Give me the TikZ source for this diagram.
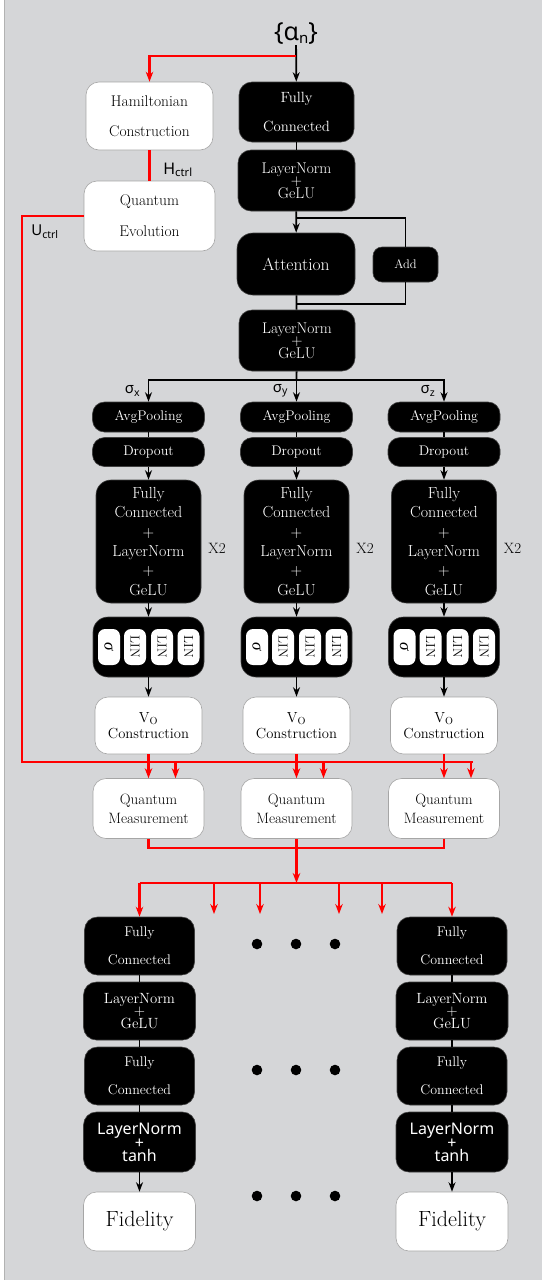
\documentclass[tikz,border=0pt]{standalone}
\usepackage{fontspec}
\newfontfamily\sansf{Noto Sans}
\newfontfamily\serifg{Liberation Serif}
\usetikzlibrary{arrows.meta}
\definecolor{bg}{RGB}{213,214,216}
\definecolor{rline}{RGB}{255,0,0}
\newcommand{\fsz}[2]{\fontsize{#1}{#2}\selectfont}
\begin{document}
\begin{tikzpicture}[x=1pt,y=-1pt,
 blk/.style={fill=black, draw=black!75, line width=0.6pt, rounded corners=13pt, text=white, inner sep=0pt, align=center},
 wht/.style={fill=white, draw=black!35, line width=0.6pt, rounded corners=13pt, inner sep=0pt, align=center},
 pill/.style={fill=white, draw=none, rounded corners=7pt, minimum width=36pt, minimum height=22pt, inner sep=0pt, font=\fsz{13}{13}, rotate=-90},
 conn/.style={line width=1.8pt, draw=black},
 arr/.style={conn, -{Stealth[length=9.5pt,width=7pt]}},
 rconn/.style={line width=2.4pt, draw=rline},
 rarr/.style={rconn, -{Stealth[length=10pt,width=7.5pt]}},
 lbl/.style={inner sep=0pt, font=\sansf\fsz{15}{15}},
 dot/.style={fill=black}
]
\useasboundingbox (0,0) rectangle (542,1280);
\fill[white] (0,0) rectangle (542,1280);
\fill[bg] (4,0) rectangle (542,1280);
\draw[black!30, line width=0.8pt] (4.4,0) -- (4.4,1280);

% top
\node[inner sep=0pt, font=\sansf\fsz{25}{25}] (alpha) at (296,34) {\{α{\fsz{15}{15}\raisebox{-3pt}{n}}\}};
\node[wht, minimum width=127pt, minimum height=68pt, font=\fsz{15.5}{30}] (ham) at (149.5,116) {Hamiltonian\\Construction};
\node[wht, minimum width=131pt, minimum height=70pt, font=\fsz{15.5}{31}] (qev) at (149.5,216) {Quantum\\Evolution};
\node[blk, minimum width=115pt, minimum height=60pt, font=\fsz{14.8}{29}] (fc1) at (296.5,112) {Fully\\Connected};
\node[blk, minimum width=117pt, minimum height=61pt, font=\fsz{15.5}{12.5}] (ln1) at (296.5,180.5) {LayerNorm\\+\\GeLU};
\node[blk, minimum width=118pt, minimum height=62pt, rounded corners=16pt, font=\fsz{17.5}{20}] (att) at (296,264) {Attention};
\node[blk, minimum width=65pt, minimum height=35pt, rounded corners=9pt, font=\fsz{12.5}{14}] (add) at (405.5,264.5) {Add};
\node[blk, minimum width=116pt, minimum height=61pt, font=\fsz{15.5}{12.5}] (ln2) at (297,340.5) {LayerNorm\\+\\GeLU};

\coordinate (rs) at (296,56);
\draw[arr] (alpha) -- (fc1);
\draw[rarr] (rs) -| (ham.north);
\draw[rconn] (ham) -- (qev);
\node[lbl, font=\sansf\fsz{16}{16}] at (178,170) {H\textsubscript{ctrl}};
\coordinate (uc) at (22,762);
\coordinate (ue) at (473,762);
\draw[rconn] (qev.west) -| (uc) -- (ue);
\node[lbl] at (45,232) {U\textsubscript{ctrl}};

\draw[conn] (fc1) -- (ln1);
\draw[arr] (ln1) -- (att);
\coordinate (s1) at (296.5,218);
\coordinate (s2) at (296.5,304);
\draw[conn] (s1) -| (add.north);
\draw[conn] (add.south) |- (s2);
\draw[conn] (att) -- (ln2);

% three branches
\foreach \i/\cx/\s in {1/148.5/x,2/296.5/y,3/444/z}{
  \node[blk, minimum width=112pt, minimum height=30pt, rounded corners=12pt, font=\fsz{14}{16}] (avg\i) at (\cx,417) {AvgPooling};
  \node[blk, minimum width=112pt, minimum height=29pt, rounded corners=12pt, font=\fsz{14}{16}] (drop\i) at (\cx,452) {Dropout};
  \node[blk, minimum width=105pt, minimum height=123pt, rounded corners=15pt, font=\fsz{16}{19.3}] (big\i) at (\cx,541.5) {Fully\\Connected\\+\\LayerNorm\\+\\GeLU};
  \node[inner sep=0pt, font=\fsz{15}{15}] at (\cx+68.5,548) {X2};
  \node[blk, minimum width=111pt, minimum height=60pt, rounded corners=15pt] (lin\i) at (\cx,647) {};
  \node[pill, font=\serifg\itshape\fsz{17}{17}] (pa\i) at (\cx-39.5,647) {σ};
  \node[pill] (pb\i) at (\cx-13.5,647) {LIN};
  \node[pill] (pc\i) at (\cx+13.5,647) {LIN};
  \node[pill] (pd\i) at (\cx+40,647) {LIN};
  \node[wht, minimum width=107pt, minimum height=57pt, font=\fsz{14.6}{16}] (vo\i) at (\cx,725.5) {V\textsubscript{O}\\Construction};
  \node[wht, minimum width=111pt, minimum height=60pt, font=\fsz{15}{19}] (qm\i) at (\cx,808.5) {Quantum\\Measurement};
  \node[lbl] at (\cx-16,391) {σ\textsubscript{\s}};
  \draw[conn] (avg\i) -- (drop\i);
  \draw[arr] (drop\i) -- (big\i);
  \draw[arr] (big\i) -- (lin\i);
  \draw[arr] (lin\i) -- (vo\i);
  \draw[rarr] (vo\i) -- (qm\i);
  \coordinate (rq\i) at (\cx+27,762);
  \draw[rarr] (rq\i) -- (rq\i |- qm\i.north);
}

\coordinate (b) at (296.5,380);
\draw[conn] (ln2) -- (b);
\draw[arr] (b) -| (avg1.north);
\draw[arr] (b) -| (avg3.north);
\draw[arr] (b) -- (avg2.north);

% merge
\coordinate (m) at (296.5,848);
\draw[rconn] (qm1.south) |- (m) -| (qm3.south);
\coordinate (f) at (296.5,883);
\draw[rarr] (qm2) -- (f);
\coordinate (fl) at (139.5,883);
\coordinate (fr) at (452,883);
\draw[rconn] (fl) -- (fr);
\foreach \k/\mx in {1/214,2/260,3/339,4/382}{
  \coordinate (t\k) at (\mx,883);
  \draw[rarr] (t\k) -- ++(0,31);
}

% bottom columns
\foreach \j/\bx in {1/139.5,2/452}{
  \node[blk, minimum width=110pt, minimum height=58pt, font=\fsz{14}{28}] (fa\j) at (\bx,946) {Fully\\Connected};
  \node[blk, minimum width=112pt, minimum height=58pt, font=\fsz{14.8}{12.5}] (la\j) at (\bx,1011) {LayerNorm\\+\\GeLU};
  \node[blk, minimum width=110pt, minimum height=58pt, font=\fsz{14}{28}] (fb\j) at (\bx,1076) {Fully\\Connected};
  \node[blk, minimum width=112pt, minimum height=60pt, font=\sansf\fsz{16}{12.5}] (lt\j) at (\bx,1142) {LayerNorm\\+\\tanh};
  \node[wht, minimum width=112pt, minimum height=59pt, font=\fsz{22}{24}] (fd\j) at (\bx,1221.5) {Fidelity};
  \draw[conn] (fa\j) -- (la\j);
  \draw[conn] (la\j) -- (fb\j);
  \draw[conn] (fb\j) -- (lt\j);
  \draw[arr] (lt\j) -- (fd\j);
}
\draw[rarr] (fl) -- (fa1);
\draw[rarr] (fr) -- (fa2);

\foreach \dy in {944,1070,1196}{
  \foreach \dx in {257,296,335}{
    \fill[dot] (\dx,\dy) circle (5.3pt);
  }
}
\end{tikzpicture}
\end{document}
